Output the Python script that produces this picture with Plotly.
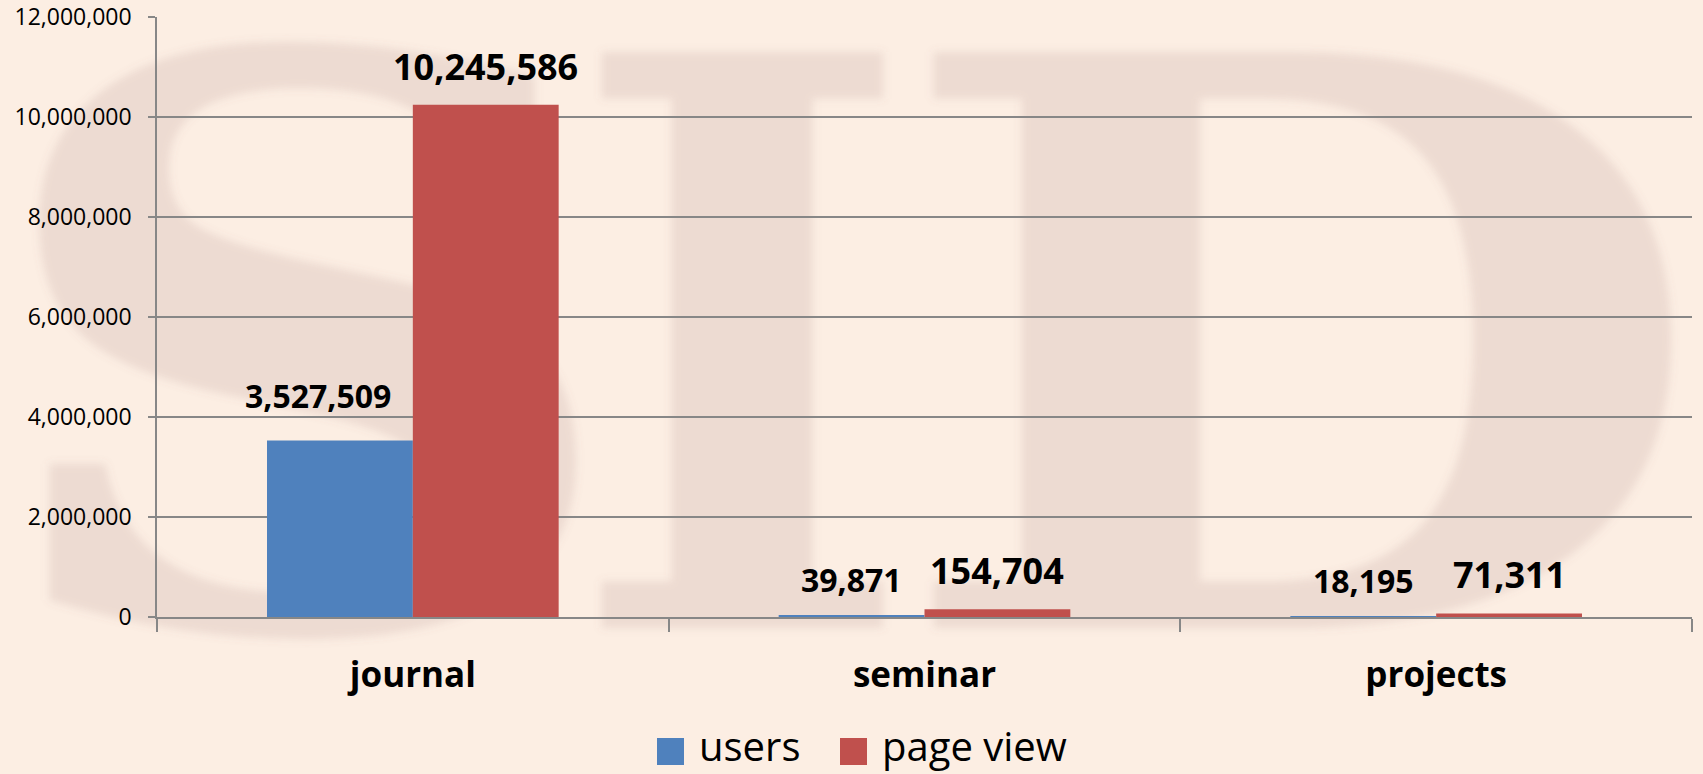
import base64
import plotly.graph_objects as go

# ---- data ----
categories = ["journal", "seminar", "projects"]
users = [3527509, 39871, 18195]
page_view = [10245586, 154704, 71311]
series_names = ["users", "page view"]
y_ticks = [0, 2000000, 4000000, 6000000, 8000000, 10000000, 12000000]

# ---- style ----
W, H = 1703, 774
ML, MR, MT, MB = 157, 11, 17, 157
PW, PH = W - ML - MR, H - MT - MB
BLUE, RED = "#4F81BD", "#C0504D"
GRID = "#878787"
BG = "#FCEEE3"
FONT = "Open Sans"
BARGAP = 0.43
# small manual nudges of individual value labels (pixels: dx, dy), as in the original
label_nudge = {("users", "journal"): (-22, 10)}

fig = go.Figure()
fig.add_trace(go.Bar(x=categories, y=users, name=series_names[0],
                     marker=dict(color=BLUE, line=dict(width=0)), showlegend=False))
fig.add_trace(go.Bar(x=categories, y=page_view, name=series_names[1],
                     marker=dict(color=RED, line=dict(width=0)), showlegend=False))

# value labels placed over each bar of the group
cat_w = PW / len(categories)
bar_w = cat_w * (1 - BARGAP) / 2
annotations = []
for name, vals, sign, size in ((series_names[0], users, -1, 32), (series_names[1], page_view, 1, 36)):
    for c, v in zip(categories, vals):
        dx, dy = label_nudge.get((name, c), (0, 0))
        annotations.append(dict(
            x=c, y=v, xref="x", yref="y", text=f"{v:,}", showarrow=False,
            xshift=sign * bar_w / 2 + dx, yshift=12 + dy, yanchor="bottom", xanchor="center",
            font=dict(family=FONT, size=size, color="black", weight="bold")))

# manual legend (large squares like the original)
def px_x(p):
    return (p - ML) / PW

def px_y(p):
    return (MT + PH - p) / PH

legend_items = [(series_names[0], BLUE, 657), (series_names[1], RED, 840)]
shapes = []
for name, col, x0 in legend_items:
    shapes.append(dict(type="rect", xref="paper", yref="paper",
                       x0=px_x(x0), x1=px_x(x0 + 27), y0=px_y(765), y1=px_y(738),
                       fillcolor=col, line=dict(width=0)))
    annotations.append(dict(x=px_x(x0 + 40), y=px_y(745), xref="paper", yref="paper",
                            text=name, showarrow=False, xanchor="left", yanchor="middle",
                            font=dict(family=FONT, size=40, color="black")))

# watermark "SID" background as an inline SVG image
svg = f"""<svg xmlns='http://www.w3.org/2000/svg' width='{W}' height='{H}' viewBox='0 0 {W} {H}'>
<defs><filter id='b' x='-10%' y='-10%' width='120%' height='120%'><feGaussianBlur stdDeviation='4'/></filter></defs>
<rect width='{W}' height='{H}' fill='{BG}'/>
<g font-family='DejaVu Serif' font-weight='bold' font-size='790' text-anchor='middle'
   fill='#9A6E70' fill-opacity='0.15' filter='url(#b)'>
<text transform='translate(305,628) scale(1.14,1)'>S</text>
<text transform='translate(742,628) scale(0.95,1)'>I</text>
<text transform='translate(1300,628) scale(1.2,1)'>D</text>
</g></svg>"""
uri = "data:image/svg+xml;base64," + base64.b64encode(svg.encode()).decode()

fig.update_layout(
    width=W, height=H,
    margin=dict(l=ML, r=MR, t=MT, b=MB, pad=0, autoexpand=False),
    paper_bgcolor=BG, plot_bgcolor="rgba(0,0,0,0)",
    barmode="group", bargap=BARGAP, bargroupgap=0,
    showlegend=False,
    annotations=annotations, shapes=shapes,
    images=[dict(source=uri, xref="paper", yref="paper",
                 x=-ML / PW, y=1 + MT / PH, sizex=W / PW, sizey=H / PH,
                 xanchor="left", yanchor="top", sizing="stretch", layer="below")],
    font=dict(family=FONT, color="black"),
)
fig.update_xaxes(
    type="category", categoryorder="array", categoryarray=categories,
    automargin=False,
    showline=True, linecolor=GRID, linewidth=1.5, mirror=False,
    ticks="outside", tickson="boundaries", ticklen=13, tickcolor=GRID, tickwidth=1.5,
    showgrid=False, ticklabelstandoff=26,
    tickfont=dict(family=FONT, size=35, color="black", weight="bold"),
)
fig.update_yaxes(
    range=[0, 12000000], tickvals=y_ticks, tickformat=",d",
    automargin=False,
    showgrid=True, gridcolor=GRID, gridwidth=1.5,
    showline=True, linecolor=GRID, linewidth=1.5, zeroline=False,
    ticks="outside", ticklen=7, tickcolor=GRID, tickwidth=1.5,
    ticklabelstandoff=12,
    tickfont=dict(family=FONT, size=23, color="black"),
)

fig.write_html("out.html", config={"displayModeBar": False},
               post_script="document.body.style.margin='0';document.body.style.background='" + BG + "';")
